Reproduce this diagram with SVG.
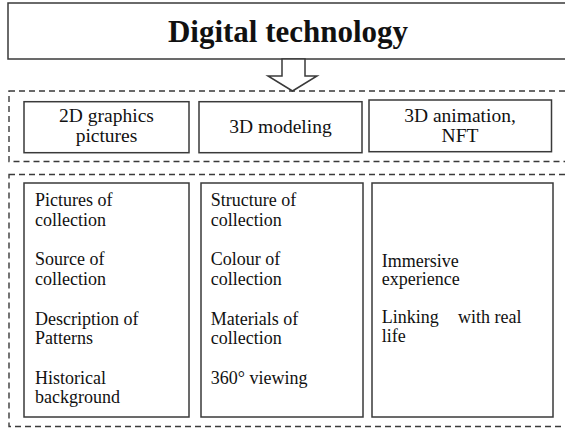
<svg xmlns="http://www.w3.org/2000/svg" width="565" height="430" viewBox="0 0 565 430">
<style>
.box{fill:#fff;stroke:#3a3a3a;stroke-width:1.5}
.dash{fill:none;stroke:#3a3a3a;stroke-width:1.4;stroke-dasharray:6 4}
text{font-family:'Liberation Serif','Times New Roman','DejaVu Serif',serif;fill:#111}
.h{font-size:19.5px;text-anchor:middle}
.b{font-size:18px}
.title{font-size:31px;font-weight:bold;text-anchor:middle}
</style>
<rect width="565" height="430" fill="#fff"/>
<g id="top">
<rect class="box" x="8" y="3" width="570" height="56"/>
<text class="title" x="288" y="42" font-family="Liberation Serif, serif">Digital technology</text>
</g>
<g id="connectors">
<polygon class="box" points="282,59 305,59 305,76 317,76 292.5,91 268,76 282,76"/>
</g>
<g id="group1">
<rect class="dash" x="9" y="91" width="570" height="70.5"/>
</g>
<g id="h1">
<rect class="box" x="24" y="101.7" width="165" height="51"/>
<text class="h" x="106.5" y="122.2">2D graphics<tspan x="106.5" y="141.9">pictures</tspan></text>
</g>
<g id="h2">
<rect class="box" x="199" y="101.7" width="163" height="51"/>
<text class="h" x="280.5" y="133">3D modeling</text>
</g>
<g id="h3">
<rect class="box" x="369" y="100" width="182.5" height="51.7"/>
<text class="h" x="460" y="122.2">3D animation,<tspan x="460" y="141.5">NFT</tspan></text>
</g>
<g id="group2">
<rect class="dash" x="9" y="174.5" width="570" height="252"/>
</g>
<g id="c1">
<rect class="box" x="24" y="183" width="165" height="234"/>
<text class="b" x="35" y="206">Pictures of<tspan x="35" y="225.5">collection</tspan><tspan x="35" y="265">Source of</tspan><tspan x="35" y="284.5">collection</tspan><tspan x="35" y="324.5">Description of</tspan><tspan x="35" y="344">Patterns</tspan><tspan x="35" y="383.5">Historical</tspan><tspan x="35" y="403">background</tspan></text>
</g>
<g id="c2">
<rect class="box" x="201" y="183" width="162" height="234"/>
<text class="b" x="210.7" y="206">Structure of<tspan x="210.7" y="225.5">collection</tspan><tspan x="210.7" y="265">Colour of</tspan><tspan x="210.7" y="284.5">collection</tspan><tspan x="210.7" y="324.5">Materials of</tspan><tspan x="210.7" y="344">collection</tspan><tspan x="210.7" y="383.5">360° viewing</tspan></text>
</g>
<g id="c3">
<rect class="box" x="372" y="183" width="181" height="234"/>
<text class="b" x="381.7" y="266.7">Immersive<tspan x="381.7" y="285">experience</tspan><tspan x="381.7" y="323.3">Linking</tspan><tspan x="458" y="323.3">with real</tspan><tspan x="381.7" y="341.7">life</tspan></text>
</g>
</svg>
